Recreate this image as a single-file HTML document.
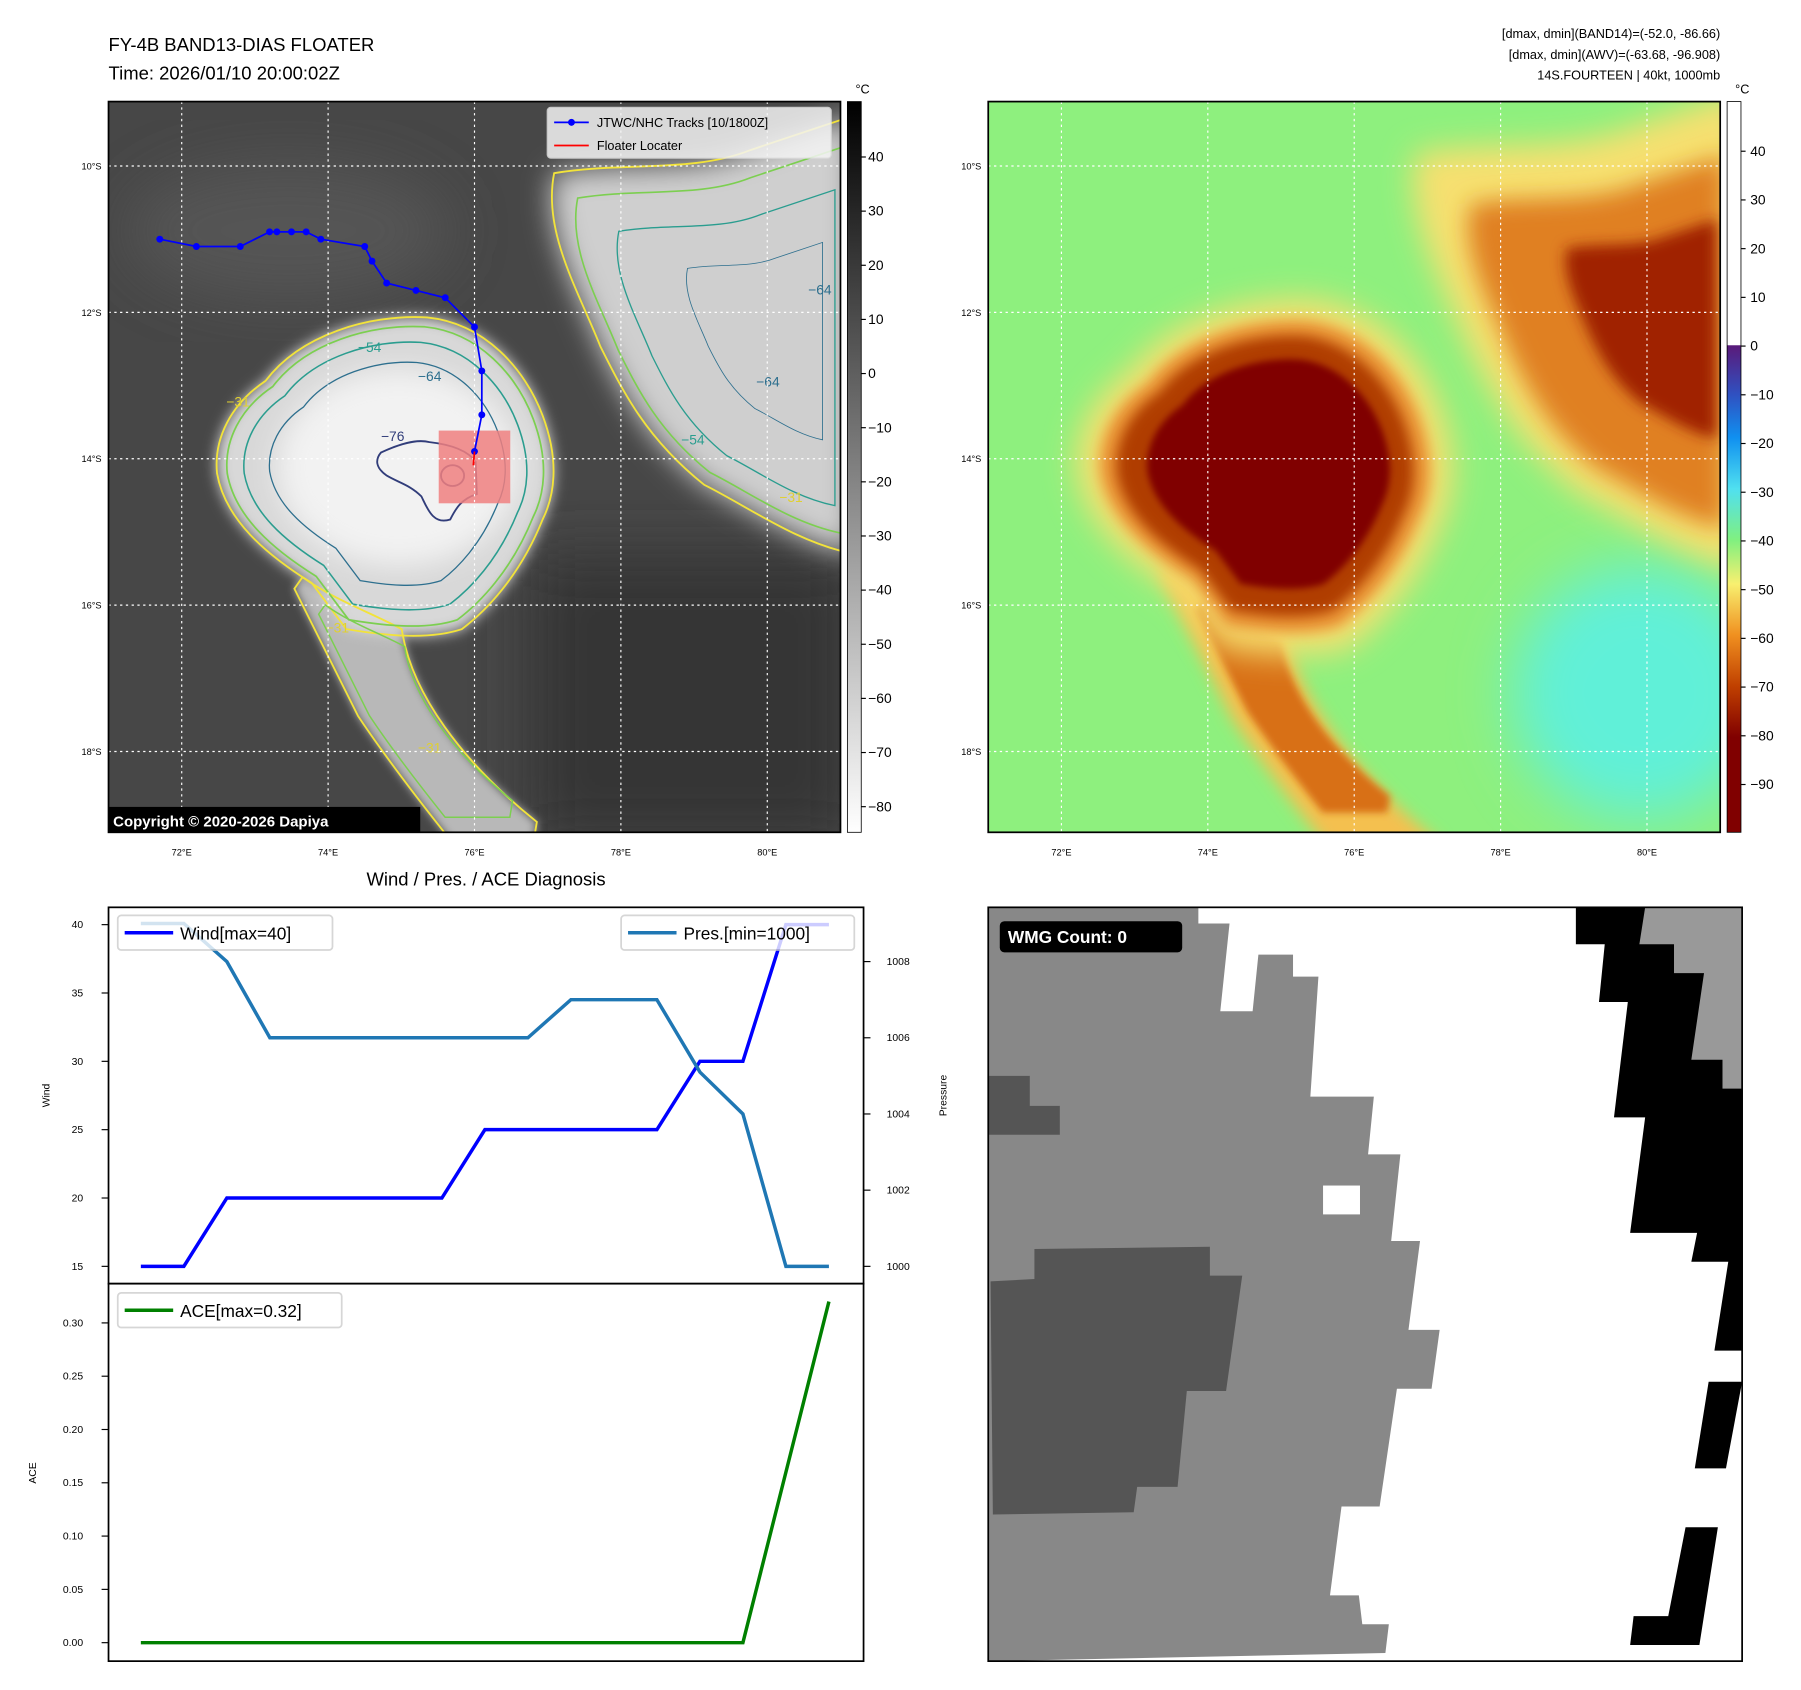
<!DOCTYPE html>
<html><head><meta charset="utf-8"><style>
html,body{margin:0;padding:0;background:#fff}
svg{display:block}
text{font-family:"Liberation Sans","DejaVu Sans",sans-serif}
</style></head><body>
<svg id="root" width="1801" height="1690" viewBox="0 0 1560 1464" preserveAspectRatio="none" xmlns="http://www.w3.org/2000/svg">
<defs>
<filter id="b4" x="-20%" y="-20%" width="140%" height="140%"><feGaussianBlur stdDeviation="4"/></filter>
<filter id="b6" x="-20%" y="-20%" width="140%" height="140%"><feGaussianBlur stdDeviation="6"/></filter>
<filter id="b12" x="-30%" y="-30%" width="160%" height="160%"><feGaussianBlur stdDeviation="12"/></filter>
<filter id="b25" x="-30%" y="-30%" width="160%" height="160%"><feGaussianBlur stdDeviation="25"/></filter>
<clipPath id="cl1"><rect x="94" y="88" width="634" height="633"/></clipPath>
<clipPath id="cl2"><rect x="856" y="88" width="634" height="633"/></clipPath>
<linearGradient id="gcb" x1="0" y1="0" x2="0" y2="1"><stop offset="0" stop-color="#000"/><stop offset="1" stop-color="#fff"/></linearGradient>
<linearGradient id="rcb" x1="0" y1="0" x2="0" y2="1">
<stop offset="0" stop-color="#ffffff"/><stop offset="0.333" stop-color="#ffffff"/>
<stop offset="0.334" stop-color="#5a1a7a"/><stop offset="0.40" stop-color="#3050c0"/>
<stop offset="0.46" stop-color="#1090f0"/><stop offset="0.53" stop-color="#50e0f0"/>
<stop offset="0.60" stop-color="#80f080"/><stop offset="0.66" stop-color="#f8f070"/>
<stop offset="0.73" stop-color="#f09020"/><stop offset="0.80" stop-color="#c04000"/>
<stop offset="0.87" stop-color="#800000"/><stop offset="1" stop-color="#800000"/></linearGradient>
<path id="storm" d="M230,330 C260,290 320,272 370,275 C420,280 455,320 470,360 C485,400 480,430 470,450 C450,500 420,530 400,545 C370,555 330,550 300,545 L270,505 C230,480 195,450 188,410 C185,380 200,350 230,330 Z"/>
<path id="tail" d="M262,500 C290,520 320,530 348,545 C356,600 400,660 465,712 L462,730 L392,730 C360,690 330,650 310,620 C290,580 270,540 255,510 Z"/>
<path id="ne" d="M480,150 C540,140 600,150 650,130 L740,100 L740,480 C690,470 650,440 610,420 C560,380 540,340 520,300 C500,250 470,200 480,150 Z"/>
</defs>

<text x="94" y="44" font-size="16">FY-4B BAND13-DIAS FLOATER</text>
<text x="94" y="69" font-size="16">Time: 2026/01/10 20:00:02Z</text>
<g font-size="11" text-anchor="end">
<text x="1490" y="33">[dmax, dmin](BAND14)=(-52.0, -86.66)</text>
<text x="1490" y="51">[dmax, dmin](AWV)=(-63.68, -96.908)</text>
<text x="1490" y="69">14S.FOURTEEN | 40kt, 1000mb</text></g>

<!-- LEFT MAP -->
<g clip-path="url(#cl1)">
<rect x="94" y="88" width="634" height="633" fill="#474747"/>
<rect x="460" y="480" width="280" height="250" fill="#363636" filter="url(#b25)"/>
<ellipse cx="250" cy="200" rx="140" ry="60" fill="#555" filter="url(#b25)"/>
<use href="#ne" fill="#cfcfcf" filter="url(#b12)"/>
<use href="#tail" fill="#b8b8b8" filter="url(#b4)"/>
<use href="#storm" fill="#d8d8d8" filter="url(#b6)"/>
<ellipse cx="345" cy="405" rx="105" ry="85" fill="#f2f2f2" filter="url(#b12)"/>
<g fill="none" stroke-width="1.6">
<use href="#ne" stroke="#f2e33a"/>
<use href="#ne" stroke="#7ccf50" transform="translate(650,330) scale(0.88) translate(-650,-330)"/>
<use href="#ne" stroke="#2a9d8f" transform="translate(680,330) scale(0.72) translate(-680,-330)"/>
<use href="#ne" stroke="#2d6f8e" transform="translate(690,300) scale(0.45) translate(-690,-300)"/>
<use href="#storm" stroke="#f2e33a"/>
<use href="#tail" stroke="#f2e33a"/>
<use href="#tail" stroke="#7ccf50" transform="translate(360,620) scale(0.8) translate(-360,-620)"/>
<use href="#storm" stroke="#7ccf50" transform="translate(335,410) scale(0.94) translate(-335,-410)"/>
<use href="#storm" stroke="#2a9d8f" transform="translate(335,410) scale(0.84) translate(-335,-410)"/>
<use href="#storm" stroke="#2d6f8e" transform="translate(340,405) scale(0.7) translate(-340,-405)"/>
<path d="M330,392 C345,385 360,380 372,383 C390,385 405,390 412,400 L413,428 C400,432 395,440 390,450 C375,455 370,440 365,430 C355,420 345,418 335,412 C325,405 325,398 330,392 Z" stroke="#313d7a"/>
<ellipse cx="392" cy="412" rx="10" ry="9" stroke="#313d7a"/>
</g>
<g font-size="12">
<text x="310" y="305" fill="#2a9d8f">−54</text><text x="362" y="330" fill="#2d6f8e">−64</text>
<text x="330" y="382" fill="#313d7a">−76</text><text x="196" y="352" fill="#e0d030">−31</text>
<text x="590" y="385" fill="#2a9d8f">−54</text><text x="655" y="335" fill="#2d6f8e">−64</text>
<text x="675" y="435" fill="#e0d030">−31</text><text x="700" y="255" fill="#2d6f8e">−64</text>
<text x="282" y="548" fill="#e0d030">−31</text><text x="362" y="652" fill="#e0d030">−31</text>
</g>
<rect x="380" y="373" width="62" height="63" fill="#f08080" opacity="0.85"/>
<g id="grid1" stroke="#fff" stroke-width="1" stroke-dasharray="2,3"></g>
<g id="track"></g>
<rect x="474" y="93" width="246" height="44" rx="3" fill="#f4f4f4" opacity="0.85" stroke="#ddd"/>
<line x1="480" y1="106" x2="510" y2="106" stroke="#00f" stroke-width="1.5"/><circle cx="495" cy="106" r="3" fill="#00f"/>
<text x="517" y="110" font-size="11">JTWC/NHC Tracks [10/1800Z]</text>
<line x1="480" y1="126" x2="510" y2="126" stroke="#f00" stroke-width="1.5"/>
<text x="517" y="130" font-size="11">Floater Locater</text>
<rect x="94" y="699" width="270" height="22" fill="#000"/>
<text x="98" y="716" font-size="13" font-weight="bold" fill="#fff">Copyright © 2020-2026 Dapiya</text>
</g>
<rect x="94" y="88" width="634" height="633" fill="none" stroke="#000" stroke-width="1.5"/>
<rect x="734" y="88" width="12" height="633" fill="url(#gcb)" stroke="#000" stroke-width="0.7"/>
<text x="741" y="81" font-size="11">°C</text>
<g id="cb1" font-size="12"></g>

<!-- RIGHT MAP -->
<g clip-path="url(#cl2)">
<rect x="856" y="88" width="634" height="633" fill="#8ef07e"/>
<ellipse cx="1420" cy="600" rx="110" ry="110" fill="#60f0d8" filter="url(#b25)"/>
<g transform="translate(762,0)">
<use href="#ne" fill="#f6e070" filter="url(#b12)" transform="translate(640,330) scale(1.1) translate(-640,-330)"/>
<use href="#ne" fill="#e08020" filter="url(#b12)" transform="translate(690,330) scale(0.85) translate(-690,-330)"/>
<use href="#ne" fill="#a02400" filter="url(#b12)" transform="translate(710,280) scale(0.5) translate(-710,-280)"/>
<use href="#tail" fill="#f4c050" filter="url(#b6)" transform="translate(340,600) scale(1.15) translate(-340,-600)"/>
<use href="#tail" fill="#d87018" filter="url(#b4)" transform="translate(350,600) scale(0.8) translate(-350,-600)"/>
<use href="#storm" fill="#f6e070" filter="url(#b12)" transform="translate(335,410) scale(1.12) translate(-335,-410)"/>
<use href="#storm" fill="#e89030" filter="url(#b6)" transform="translate(335,410) scale(0.98) translate(-335,-410)"/>
<use href="#storm" fill="#b03c00" filter="url(#b6)" transform="translate(335,410) scale(0.88) translate(-335,-410)"/>
<use href="#storm" fill="#800000" filter="url(#b4)" transform="translate(345,405) scale(0.72) translate(-345,-405)"/>
</g>
<g id="grid2" stroke="#fff" stroke-width="1" stroke-dasharray="2,3"></g>
</g>
<rect x="856" y="88" width="634" height="633" fill="none" stroke="#000" stroke-width="1.5"/>
<rect x="1496" y="88" width="12" height="633" fill="url(#rcb)" stroke="#000" stroke-width="0.7"/>
<text x="1503" y="81" font-size="11">°C</text>
<g id="cb2" font-size="12"></g>
<g id="mapticks" font-size="8"></g>

<!-- DIAGNOSIS -->
<text x="421" y="767" font-size="16" text-anchor="middle">Wind / Pres. / ACE Diagnosis</text>
<g id="diag"></g>
<rect x="94" y="786" width="654" height="326" fill="none" stroke="#000" stroke-width="1.5"/>
<rect x="94" y="1112" width="654" height="327" fill="none" stroke="#000" stroke-width="1.5"/>
<text transform="translate(43,949) rotate(-90)" font-size="9" text-anchor="middle">Wind</text>
<text transform="translate(820,949) rotate(-90)" font-size="9" text-anchor="middle">Pressure</text>
<text transform="translate(31,1276) rotate(-90)" font-size="9" text-anchor="middle">ACE</text>
<rect x="102" y="793" width="186" height="30" rx="3" fill="#fff" opacity="0.8" stroke="#ccc" stroke-width="1.5"/>
<line x1="108" y1="808" x2="150" y2="808" stroke="#00f" stroke-width="3"/>
<text x="156" y="814" font-size="15">Wind[max=40]</text>
<rect x="538" y="793" width="202" height="30" rx="3" fill="#fff" opacity="0.8" stroke="#ccc" stroke-width="1.5"/>
<line x1="544" y1="808" x2="586" y2="808" stroke="#1f77b4" stroke-width="3"/>
<text x="592" y="814" font-size="15">Pres.[min=1000]</text>
<rect x="102" y="1120" width="194" height="30" rx="3" fill="#fff" opacity="0.8" stroke="#ccc" stroke-width="1.5"/>
<line x1="108" y1="1135" x2="150" y2="1135" stroke="#008000" stroke-width="3"/>
<text x="156" y="1141" font-size="15">ACE[max=0.32]</text>

<!-- WMG -->
<g>
<rect x="856" y="786" width="653" height="653" fill="#fff"/>
<polygon fill="#888" points="856,786 1038,786 1038,800 1065,800 1057,876 1085,876 1090,827 1120,827 1120,846 1142,846 1135,950 1190,950 1185,1000 1213,1000 1205,1075 1230,1075 1220,1152 1247,1152 1240,1203 1210,1203 1195,1305 1162,1305 1152,1382 1177,1382 1180,1407 1203,1407 1200,1432 856,1439"/>
<polygon fill="#555" points="896,1082 1048,1080 1048,1105 1076,1105 1062,1205 1028,1205 1020,1288 985,1288 982,1310 860,1312 858,1110 896,1108"/>
<polygon fill="#555" points="856,932 892,932 892,958 918,958 918,983 856,983"/>
<rect x="1146" y="1027" width="32" height="25" fill="#fff"/>
<polygon fill="#000" points="1365,786 1509,786 1509,1170 1485,1170 1497,1093 1465,1093 1470,1068 1412,1068 1425,968 1398,968 1410,868 1385,868 1390,818 1365,818"/>
<polygon fill="#999" points="1425,786 1509,786 1509,943 1492,943 1492,918 1465,918 1476,843 1450,843 1450,818 1420,818"/>
<polygon fill="#000" points="1480,1197 1509,1197 1495,1272 1468,1272"/>
<polygon fill="#000" points="1460,1323 1488,1323 1472,1425 1412,1425 1415,1400 1445,1400"/>
<rect x="856" y="786" width="653" height="653" fill="none" stroke="#000" stroke-width="1.5"/>
<rect x="866" y="798" width="158" height="27" rx="4" fill="#000"/>
<text x="873" y="817" font-size="15" font-weight="bold" fill="#fff">WMG Count: 0</text>
</g>
</svg>
<script>
var NS="http://www.w3.org/2000/svg";
var timeIndex=[0,1,2,3,4,5,6,7,8,9,10,11,12,13,14,15,16];
var windVals=[15,15,20,20,20,20,20,20,25,25,25,25,25,30,30,40,40];
var presVals=[1009,1009,1008,1006,1006,1006,1006,1006,1006,1006,1007,1007,1007,1005.1,1004,1000,1000];
var aceVals=[0,0,0,0,0,0,0,0,0,0,0,0,0,0,0,0.16,0.32];
var windTicks=[15,20,25,30,35,40];
var presTicks=[1000,1002,1004,1006,1008];
var aceTicks=[0,0.05,0.10,0.15,0.20,0.25,0.30];
var trackLon=[71.7,72.2,72.8,73.2,73.3,73.5,73.7,73.9,74.5,74.6,74.8,75.2,75.6,76.0,76.1,76.1,76.0];
var trackLat=[-11.0,-11.1,-11.1,-10.9,-10.9,-10.9,-10.9,-11.0,-11.1,-11.3,-11.6,-11.7,-11.8,-12.2,-12.8,-13.4,-13.9];
var lonTicks=[72,74,76,78,80];
var latTicks=[-10,-12,-14,-16,-18];
var irCbTicks=[40,30,20,10,0,-10,-20,-30,-40,-50,-60,-70,-80];
var awvCbTicks=[40,30,20,10,0,-10,-20,-30,-40,-50,-60,-70,-80,-90];

function mk(tag,attrs,parent){var e=document.createElementNS(NS,tag);for(var k in attrs)e.setAttribute(k,attrs[k]);parent.appendChild(e);return e;}
function xT(i){return 122+i*(718-122)/16;}
function yW(v){return 1097-(v-15)*(1097-801)/25;}
function yP(v){return 1097-(v-1000)*(1097-833)/8;}
function yA(v){return 1423-v*(1423-1146)/0.30;}
function lonX(l,off){return 94+off+(l-71)*63.4;}
function latY(l){return 88+(-9.12-l)*63.4;}

[["grid1",0],["grid2",762]].forEach(function(g){
  var p=document.getElementById(g[0]);
  lonTicks.forEach(function(l){var ln=mk("line",{x1:lonX(l,g[1]),x2:lonX(l,g[1]),y1:88,y2:721},p);
  
  });
  latTicks.forEach(function(l){var ln=mk("line",{x1:94+g[1],x2:728+g[1],y1:latY(l),y2:latY(l)},p);
  
  });
});
var mt=document.getElementById("mapticks");
[0,762].forEach(function(off){
  lonTicks.forEach(function(l){var t=mk("text",{x:lonX(l,off),y:741,"text-anchor":"middle"},mt);t.textContent=l+"°E";
  
  });
  latTicks.forEach(function(l){var t=mk("text",{x:88+off,y:latY(l)+3,"text-anchor":"end"},mt);t.textContent=(-l)+"°S";
  
  });
});
var c1=document.getElementById("cb1");
irCbTicks.forEach(function(v){var y=136+(40-v)*4.69;mk("line",{x1:746,x2:750,y1:y,y2:y,stroke:"#000"},c1);
  var t=mk("text",{x:752,y:y+4},c1);t.textContent=(v<0?"−"+(-v):v);
  
  });
var c2=document.getElementById("cb2");
awvCbTicks.forEach(function(v){var y=131+(40-v)*4.22;mk("line",{x1:1508,x2:1512,y1:y,y2:y,stroke:"#000"},c2);
  var t=mk("text",{x:1516,y:y+4},c2);t.textContent=(v<0?"−"+(-v):v);
  
  });
var tr=document.getElementById("track");
var pts=trackLon.map(function(l,i){return lonX(l,0)+","+latY(trackLat[i]);}).join(" ");
var tl=mk("polyline",{points:pts,fill:"none",stroke:"#00f","stroke-width":1.5},tr);


trackLon.forEach(function(l,i){var c=mk("circle",{cx:lonX(l,0),cy:latY(trackLat[i]),r:3,fill:"#00f"},tr);
  
  });
var n=trackLon.length-1;
var fl=mk("line",{x1:lonX(trackLon[n],0),y1:latY(trackLat[n]),x2:lonX(trackLon[n],0)-1,y2:latY(trackLat[n])+12,stroke:"#f00","stroke-width":1.5},tr);


var d=document.getElementById("diag");
windTicks.forEach(function(v){var y=yW(v);mk("line",{x1:88,x2:94,y1:y,y2:y,stroke:"#000"},d);
  var t=mk("text",{x:72,y:y+3,"font-size":9,"text-anchor":"end"},d);t.textContent=v;
  
  });
presTicks.forEach(function(v){var y=yP(v);mk("line",{x1:748,x2:754,y1:y,y2:y,stroke:"#000"},d);
  var t=mk("text",{x:768,y:y+3,"font-size":9},d);t.textContent=v;
  
  });
aceTicks.forEach(function(v){var y=yA(v);mk("line",{x1:88,x2:94,y1:y,y2:y,stroke:"#000"},d);
  var t=mk("text",{x:72,y:y+3,"font-size":9,"text-anchor":"end"},d);t.textContent=v.toFixed(2);
  
  });
function series(vals,fy,color,name){
  var p=vals.map(function(v,i){return xT(timeIndex[i])+","+fy(v);}).join(" ");
  var l=mk("polyline",{points:p,fill:"none",stroke:color,"stroke-width":3},d);
  
  
}
series(windVals,yW,"#0000ff","wind-line");
series(presVals,yP,"#1f77b4","pressure-line");
series(aceVals,yA,"#008000","ace-line");
</script>
</body></html>
